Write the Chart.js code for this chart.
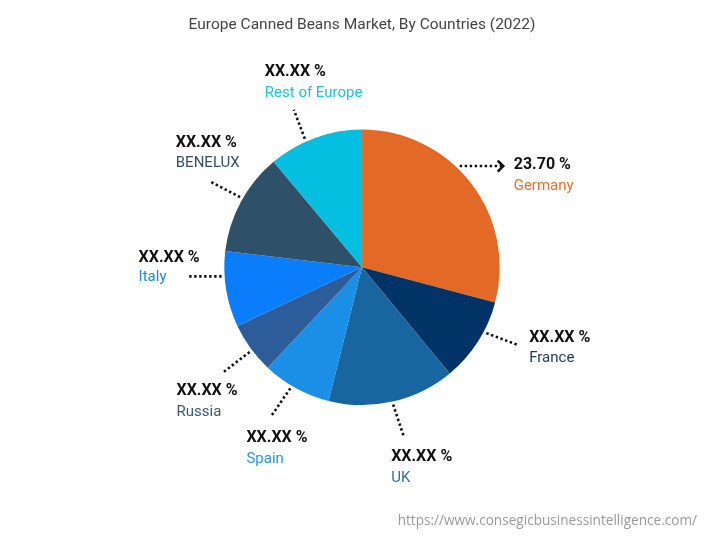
<!DOCTYPE html>
<html>
<head>
<meta charset="utf-8">
<script src="https://cdn.jsdelivr.net/npm/chart.js@4/dist/chart.umd.min.js"></script>
<style>
    html, body { margin: 0; padding: 0; background: #ffffff; }
    #wrap { width: 724px; height: 543px; position: relative; }
</style>
</head>
<body>
<div id="wrap"><canvas id="chart"></canvas></div>
<script>
// data
var countries = ["Germany", "France", "UK", "Spain", "Russia", "Italy", "BENELUX", "Rest of Europe"];
var shares = [29.1, 9.9, 14.9, 8.1, 6.0, 8.9, 12.0, 11.1];
var valueLabels = ["23.70 %", "XX.XX %", "XX.XX %", "XX.XX %", "XX.XX %", "XX.XX %", "XX.XX %", "XX.XX %"];
var sliceColors = ["#E26A26", "#023366", "#19659F", "#1B8FE6", "#2C5C99", "#0A7EFA", "#2E5069", "#04BFDF"];
var nameColors = ["#E86F2A", "#1F3D66", "#2E6DA8", "#2196F3", "#3A5A7A", "#1E88E5", "#34506C", "#1CC3E0"];

// label placement: shift of leader start from slice middle (deg), leader direction (deg, clockwise from up),
// leader length, text offset from leader end (left, value line, name line)
var labelLayout = [
    { shift: -8.4, dir: 90, len: 42, tx: 12, vy: -1, ny: 20, arrow: true },
    { shift: -4.7, dir: 110.6, len: 34, tx: 11, vy: -7, ny: 13 },
    { shift: 0, dir: 161.6, len: 35, tx: -13, vy: 19, ny: 41 },
    { shift: 2, dir: 214.6, len: 35, tx: -24, vy: 21, ny: 42 },
    { shift: -1, dir: 232.4, len: 33, tx: -47, vy: 19, ny: 40 },
    { shift: 5.5, dir: 270, len: 34, tx: -49, vy: -18, ny: 1 },
    { shift: 1.5, dir: 297.4, len: 33, tx: -35, vy: -39, ny: -19 },
    { shift: -4, dir: 339.2, len: 31, tx: -29, vy: -38, ny: -17 }
];

var sourceText = "https://www.consegicbusinessintelligence.com/";

function polar(cx, cy, r, deg) {
    var a = deg * Math.PI / 180;
    return { x: cx + r * Math.sin(a), y: cy - r * Math.cos(a) };
};

var labelPlugin = {
    id: "sliceLabels",
    afterDatasetsDraw: function (chart) {
        var ctx = chart.ctx;
        var arcs = chart.getDatasetMeta(0).data;

        ctx.save();
        arcs.forEach(function (arc, i) {
            var lay = labelLayout[i];
            var p = arc.getProps(["x", "y", "startAngle", "endAngle", "outerRadius"], true);
            // chart.js angles are from 3 o'clock; convert to degrees from 12 o'clock
            var mid = ((p.startAngle + p.endAngle) / 2) * 180 / Math.PI + 90;
            var start = polar(p.x, p.y, p.outerRadius + 3, mid + lay.shift);
            var end = polar(start.x, start.y, lay.len, lay.dir);

            ctx.strokeStyle = "#111111";
            ctx.lineWidth = 2.6;
            ctx.setLineDash([2.4, 2.6]);
            ctx.beginPath();
            ctx.moveTo(start.x, start.y);
            ctx.lineTo(end.x, end.y);
            ctx.stroke();
            ctx.setLineDash([]);

            if (lay.arrow) {
                ctx.lineWidth = 2.6;
                ctx.beginPath();
                ctx.moveTo(end.x - 4, end.y - 5.5);
                ctx.lineTo(end.x + 1.5, end.y);
                ctx.lineTo(end.x - 4, end.y + 5.5);
                ctx.stroke();
            };

            ctx.textAlign = "left";
            ctx.textBaseline = "middle";
            ctx.fillStyle = "#111111";
            ctx.font = "bold 16px Roboto";
            ctx.fillText(valueLabels[i], end.x + lay.tx, end.y + lay.vy);

            ctx.fillStyle = nameColors[i];
            ctx.font = "15px Roboto";
            ctx.fillText(countries[i], end.x + lay.tx, end.y + lay.ny);
        });

        ctx.fillStyle = "#9a9a9a";
        ctx.font = "13.6px 'Open Sans'";
        ctx.textAlign = "right";
        ctx.textBaseline = "middle";
        ctx.fillText(sourceText, 697, 521);
        ctx.restore();
    }
};

var ctx = document.getElementById("chart").getContext("2d");

new Chart(ctx, {
    type: "pie",
    data: {
        labels: countries,
        datasets: [{
            data: shares,
            backgroundColor: sliceColors,
            borderWidth: 0,
            hoverOffset: 0
        }]
    },
    options: {
        responsive: true,
        maintainAspectRatio: false,
        animation: false,
        layout: { padding: { top: 0, bottom: 138, left: 0, right: 0 } },
        plugins: {
            legend: { display: false },
            tooltip: { enabled: false },
            title: {
                display: true,
                text: "Europe Canned Beans Market, By Countries (2022)",
                color: "#444444",
                font: { family: "Roboto", size: 15.5, weight: "normal", lineHeight: 1.2 },
                padding: { top: 16, bottom: 95 }
            }
        }
    },
    plugins: [labelPlugin]
});
</script>
</body>
</html>
